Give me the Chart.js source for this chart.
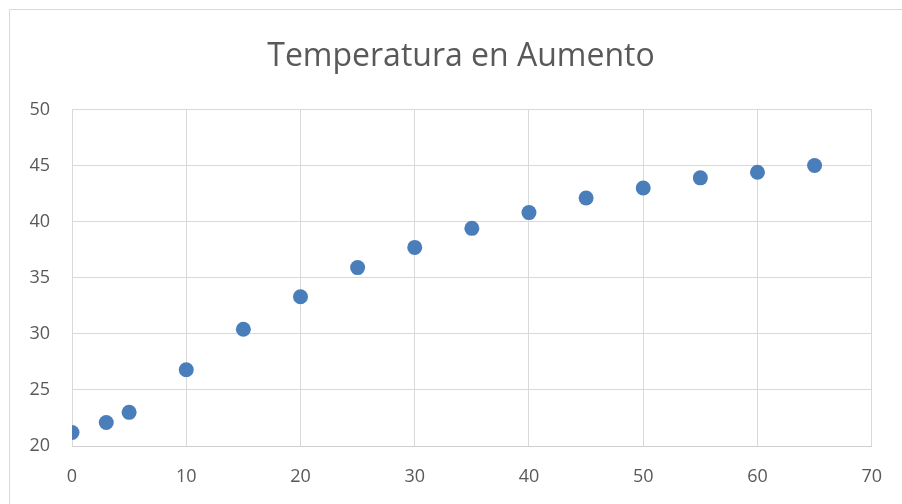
<!DOCTYPE html>
<html>
<head>
<meta charset="utf-8">
<script src="https://cdn.jsdelivr.net/npm/chart.js@4/dist/chart.umd.min.js"></script>
<style>
html,body{margin:0;padding:0;background:#fff;}
#wrap{width:902px;height:504px;position:relative;}
</style>
</head>
<body>
<div id="wrap"><canvas id="c" width="902" height="504"></canvas></div>
<script>
const titleText = "Temperatura en Aumento";
const xValues = [0, 3, 5, 10, 15, 20, 25, 30, 35, 40, 45, 50, 55, 60, 65];
const yValues = [21.2, 22.1, 23.0, 26.8, 30.4, 33.3, 35.9, 37.7, 39.4, 40.8, 42.1, 43.0, 43.9, 44.4, 45.0];
const xTicks = [0, 10, 20, 30, 40, 50, 60, 70];
const yTicks = [20, 25, 30, 35, 40, 45, 50];

const points = xValues.map((x, i) => ({x: x, y: yValues[i]}));

const borderPlugin = {
  id: 'outerBorder',
  afterLayout(chart) {
    if (chart.titleBlock) {
      chart.titleBlock.left = 50;
    }
  },
  beforeDraw(chart) {
    const ctx = chart.ctx;
    ctx.save();
    ctx.fillStyle = '#ffffff';
    ctx.fillRect(0, 0, chart.width, chart.height);
    ctx.strokeStyle = '#d9d9d9';
    ctx.lineWidth = 1;
    ctx.beginPath();
    ctx.moveTo(9.5, chart.height);
    ctx.lineTo(9.5, 9.5);
    ctx.lineTo(chart.width, 9.5);
    ctx.stroke();
    ctx.restore();
  }
};

new Chart(document.getElementById('c'), {
  type: 'scatter',
  data: {
    datasets: [{
      data: points,
      backgroundColor: '#4a7ebb',
      borderColor: '#4a7ebb',
      pointRadius: 7.5,
      pointHoverRadius: 7.5,
      borderWidth: 0
    }]
  },
  options: {
    responsive: false,
    animation: false,
    devicePixelRatio: 1,
    layout: { padding: { left: 20, right: 30, top: 0, bottom: 0 } },
    plugins: {
      legend: { display: false },
      tooltip: { enabled: false },
      title: {
        display: true,
        text: titleText,
        color: '#595959',
        font: { family: 'Open Sans', size: 32, weight: 'normal' },
        padding: { top: 38, bottom: 33 }
      }
    },
    scales: {
      x: {
        type: 'linear',
        min: 0, max: 70,
        afterBuildTicks: (s) => { s.ticks = xTicks.map(v => ({value: v})); },
        afterFit: (s) => { s.height = 58; },
        grid: { color: '#d9d9d9', lineWidth: 1, drawTicks: false },
        border: { color: '#d0d0d0', width: 1 },
        ticks: { color: '#595959', font: { family: 'Open Sans', size: 18 }, padding: 20, maxRotation: 0 }
      },
      y: {
        type: 'linear',
        min: 20, max: 50,
        afterBuildTicks: (s) => { s.ticks = yTicks.map(v => ({value: v})); },
        afterFit: (s) => { s.width = 52; },
        grid: { color: '#d9d9d9', lineWidth: 1, drawTicks: false },
        border: { color: '#d9d9d9', width: 1 },
        ticks: { color: '#595959', font: { family: 'Open Sans', size: 18 }, padding: 22 }
      }
    }
  },
  plugins: [borderPlugin]
});
</script>
</body>
</html>
